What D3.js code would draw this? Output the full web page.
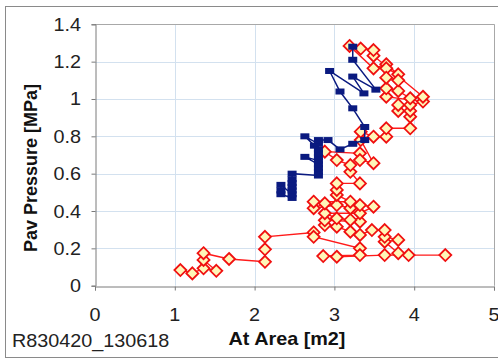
<!DOCTYPE html>
<html><head><meta charset="utf-8">
<script src="https://cdn.jsdelivr.net/npm/d3@7"></script>
<style>
html,body{margin:0;padding:0;background:#fff;}
svg{display:block;font-family:"Liberation Sans",Arial,sans-serif;}
</style></head>
<body><svg id="c" width="498" height="360"></svg>
<script>
// ---- data ----
const xTicks = [0, 1, 2, 3, 4, 5];
const yTicks = [0, 0.2, 0.4, 0.6, 0.8, 1, 1.2, 1.4];
const yTickLabels = ["0", "0.2", "0.4", "0.6", "0.8", "1", "1.2", "1.4"];
const xTitle = "At Area [m2]";
const yTitle = "Pav Pressure [MPa]";
const noteText = "R830420_130618";

// blue series (At Area, Pav Pressure)
const blueX = [2.47, 2.33, 2.33, 2.33, 2.47, 2.47, 2.47, 2.47, 2.47, 2.47, 2.80, 2.80, 2.80, 2.80, 2.63, 2.80, 2.80, 2.80, 2.80, 2.75, 2.63, 2.80, 2.80, 2.92, 3.07, 3.23, 3.38, 3.38, 3.23, 3.07, 2.94, 3.37, 3.23, 3.52, 3.23, 3.23];
const blueY = [0.47, 0.49, 0.51, 0.54, 0.49, 0.51, 0.53, 0.55, 0.57, 0.60, 0.59, 0.61, 0.63, 0.65, 0.69, 0.67, 0.69, 0.71, 0.73, 0.75, 0.80, 0.76, 0.78, 0.78, 0.73, 0.76, 0.78, 0.85, 0.95, 1.04, 1.15, 1.03, 1.12, 1.05, 1.21, 1.28];

// red series (At Area, Pav Pressure)
const redX = [1.07, 1.22, 1.36, 1.52, 1.36, 1.36, 1.68, 2.13, 2.13, 2.13, 2.74, 2.74, 3.32, 3.32, 2.86, 3.03, 3.63, 4.39, 3.93, 3.80, 3.63, 3.80, 3.63, 3.63, 3.47, 3.32, 3.20, 3.03, 2.88, 2.88, 3.32, 3.20, 3.03, 2.88, 3.32, 3.49, 3.32, 3.20, 3.03, 2.74, 2.88, 2.74, 3.20, 3.03, 3.03, 3.03, 3.32, 3.20, 3.20, 3.03, 2.88, 3.32, 3.32, 3.49, 3.33, 3.33, 3.49, 3.65, 3.65, 3.95, 3.95, 3.95, 3.80, 3.80, 3.95, 4.11, 3.65, 3.65, 3.80, 3.95, 4.11, 3.49, 3.49, 3.33, 3.19, 3.49, 3.65, 3.80, 3.65, 3.65, 3.80];
const redY = [0.084, 0.066, 0.093, 0.080, 0.138, 0.174, 0.143, 0.128, 0.195, 0.262, 0.285, 0.262, 0.200, 0.164, 0.159, 0.155, 0.164, 0.164, 0.164, 0.174, 0.236, 0.245, 0.262, 0.298, 0.298, 0.272, 0.289, 0.316, 0.325, 0.350, 0.343, 0.352, 0.361, 0.388, 0.388, 0.423, 0.432, 0.415, 0.432, 0.415, 0.441, 0.450, 0.450, 0.486, 0.513, 0.548, 0.548, 0.610, 0.646, 0.673, 0.718, 0.709, 0.673, 0.656, 0.780, 0.825, 0.798, 0.798, 0.843, 0.843, 0.905, 0.936, 0.936, 0.968, 0.968, 0.986, 1.012, 1.057, 1.043, 1.004, 1.012, 1.232, 1.262, 1.270, 1.284, 1.164, 1.186, 1.132, 1.164, 1.114, 1.100];

// ---- drawing ----
const svg = d3.select("#c");
const x = d3.scaleLinear().domain([0, 5]).range([95, 494]);
const y = d3.scaleLinear().domain([0, 1.4]).range([285.7, 24.3]);
const SX = 1.1; // horizontal stretch of text

// outer frame
svg.append("rect").attr("x", 5.5).attr("y", 6.5).attr("width", 520).attr("height", 351)
  .attr("fill", "#fff").attr("stroke", "#8a8a8a").attr("stroke-width", 1);

// gridlines
const grid = svg.append("g");
grid.selectAll("line.gy").data(yTicks.slice(1)).join("line")
  .attr("x1", x(0)).attr("x2", x(5)).attr("y1", d => Math.round(y(d)) + 0.5).attr("y2", d => Math.round(y(d)) + 0.5)
  .attr("stroke", "#d3e1ef").attr("stroke-width", 1);
grid.selectAll("line.gx").data(xTicks.slice(1)).join("line")
  .attr("y1", y(0)).attr("y2", y(1.4)).attr("x1", d => Math.round(x(d)) + 0.5).attr("x2", d => Math.round(x(d)) + 0.5)
  .attr("stroke", "#d3e1ef").attr("stroke-width", 1);

// plot border top/right
svg.append("path").attr("d", `M${x(0)},${Math.round(y(1.4)) + 0.5}H${Math.round(x(5)) + 0.5}V${y(0)}`)
  .attr("fill", "none").attr("stroke", "#a8a8a8");

// axes
const yAxis = svg.append("g").attr("transform", `translate(${Math.round(x(0)) + 0.5},0)`)
  .call(d3.axisLeft(y).tickValues(yTicks).tickSize(4).tickFormat(""));
const xAxis = svg.append("g").attr("transform", `translate(0,${Math.round(y(0)) + 0.5})`)
  .call(d3.axisBottom(x).tickValues(xTicks).tickSize(4).tickFormat(""));
[xAxis, yAxis].forEach(g => {
  g.select(".domain").attr("stroke", "#7a7a7a");
  g.selectAll(".tick line").attr("stroke", "#7a7a7a");
});

// tick labels (stretched)
svg.append("g").selectAll("text").data(yTicks).join("text")
  .attr("transform", d => `translate(81,${y(d) + 6.5}) scale(${SX},1)`)
  .attr("text-anchor", "end").attr("font-size", 18).attr("fill", "#222")
  .text((d, i) => yTickLabels[i]);
svg.append("g").selectAll("text").data(xTicks).join("text")
  .attr("transform", d => `translate(${x(d)},${321}) scale(${SX},1)`)
  .attr("text-anchor", "middle").attr("font-size", 18).attr("fill", "#222")
  .text(d => d);

// titles
svg.append("text").attr("transform", `translate(287,345) scale(${SX},1)`)
  .attr("text-anchor", "middle").attr("font-size", 18).attr("font-weight", "bold").attr("fill", "#111")
  .text(xTitle);
svg.append("text").attr("transform", `translate(37,168) rotate(-90)`)
  .attr("text-anchor", "middle").attr("font-size", 18).attr("font-weight", "bold").attr("fill", "#111")
  .text(yTitle);
svg.append("text").attr("transform", `translate(12,347) scale(${SX},1)`)
  .attr("font-size", 18).attr("fill", "#222")
  .text(noteText);

// red series
const red = redX.map((v, i) => [v, redY[i]]);
const blue = blueX.map((v, i) => [v, blueY[i]]);
const line = d3.line().x(d => x(d[0])).y(d => y(d[1]));

svg.append("path").datum(red).attr("d", line).attr("fill", "none")
  .attr("stroke", "#ff1a1a").attr("stroke-width", 1.4);
svg.append("g").selectAll("path").data(red).join("path")
  .attr("transform", d => `translate(${x(d[0])},${y(d[1])})`)
  .attr("d", "M0,-6L6,0L0,6L-6,0Z")
  .attr("fill", "#fff6b8").attr("stroke", "#f01010").attr("stroke-width", 1.8);

// blue series
svg.append("path").datum(blue).attr("d", line).attr("fill", "none")
  .attr("stroke", "#0a1a80").attr("stroke-width", 1.5);
svg.append("g").selectAll("rect").data(blue).join("rect")
  .attr("x", d => x(d[0]) - 4.5).attr("y", d => y(d[1]) - 3)
  .attr("width", 9).attr("height", 6).attr("fill", "#0a1a80");
</script></body></html>
